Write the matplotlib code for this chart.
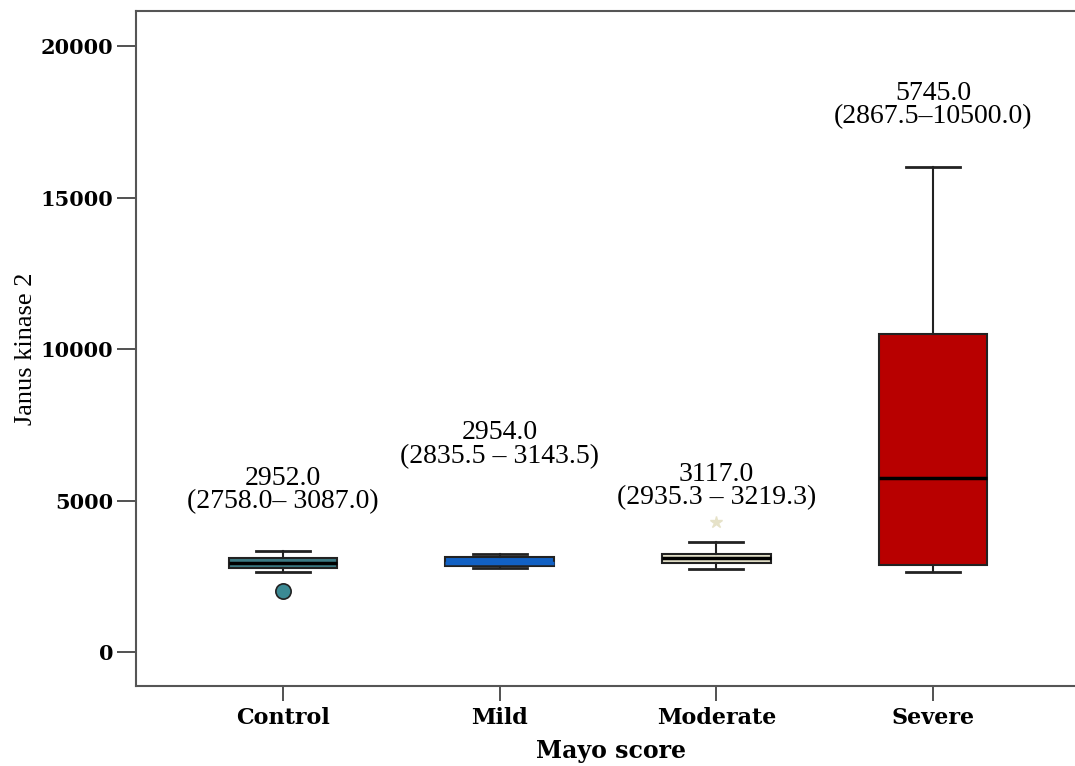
import matplotlib
matplotlib.use('Agg')
import matplotlib.pyplot as plt

# data
groups = ['Control', 'Mild', 'Moderate', 'Severe']
medians = [2952.0, 2954.0, 3117.0, 5745.0]
q1 = [2758.0, 2835.5, 2935.3, 2867.5]
q3 = [3087.0, 3143.5, 3219.3, 10500.0]
whis_lo = [2650, 2780, 2740, 2640]
whis_hi = [3330, 3230, 3630, 16000]
outliers = [[2000], [], [4300], []]
labels = ['2952.0\n(2758.0\u2013 3087.0)',
          '2954.0\n(2835.5 \u2013 3143.5)',
          '3117.0\n(2935.3 \u2013 3219.3)',
          '5745.0\n(2867.5\u201310500.0)']
label_y = [5350, 6850, 5480, 18050]
colors = ['#3b7a84', '#1261c4', '#e8e5cc', '#b80000']

fig = plt.figure(figsize=(10.75, 7.66), dpi=100)
ax = fig.add_axes([0.1265, 0.1044, 0.8735, 0.8812])

stats = []
for i in range(len(groups)):
    stats.append(dict(med=medians[i], q1=q1[i], q3=q3[i],
                      whislo=whis_lo[i], whishi=whis_hi[i], fliers=[]))

pos = [1, 2, 3, 4]
bp = ax.bxp(stats, positions=pos, widths=0.5, patch_artist=True,
            showfliers=False,
            medianprops=dict(color='black', linewidth=2.5),
            whiskerprops=dict(color='#222222', linewidth=1.5),
            capprops=dict(color='#222222', linewidth=2),
            boxprops=dict(edgecolor='#222222', linewidth=1.5))
for patch, c in zip(bp['boxes'], colors):
    patch.set_facecolor(c)
bp['medians'][1].set_color('#1261c4')

# outliers
ax.plot([1] * len(outliers[0]), outliers[0], 'o', ms=11,
        markerfacecolor='#3b8a94', markeredgecolor='#222222', mew=1.2)
ax.plot([3] * len(outliers[2]), outliers[2], '*', ms=9,
        markerfacecolor='#e6e2c8', markeredgecolor='#e6e2c8')

for i in range(len(groups)):
    ax.text(pos[i], label_y[i], labels[i], ha='center', va='center',
            fontsize=20, family='Liberation Serif', linespacing=0.92)

ax.set_xlim(0.322, 4.655)
ax.set_ylim(-1122, 21155)
ax.set_yticks([0, 5000, 10000, 15000, 20000])
ax.set_xticks(pos)
ax.set_xticklabels(groups)
for t in ax.get_xticklabels():
    t.set_family('DejaVu Serif')
    t.set_fontweight('bold')
    t.set_fontsize(16)
for t in ax.get_yticklabels():
    t.set_family('DejaVu Serif')
    t.set_fontweight('bold')
    t.set_fontsize(15)
ax.tick_params(axis='y', length=13.5, width=1.2, color='#333333', pad=3)
ax.tick_params(axis='x', length=11, width=1.2, color='#333333', pad=4)
ax.spines['right'].set_visible(False)
for s in ['left', 'bottom', 'top']:
    ax.spines[s].set_color('#555555')
    ax.spines[s].set_linewidth(1.5)

ax.set_ylabel('Janus kinase 2', family='Liberation Serif', fontsize=19)
ax.yaxis.set_label_coords(-0.105, 0.5)
ax.set_xlabel('Mayo score', family='DejaVu Serif', fontweight='bold',
              fontsize=17)
ax.xaxis.set_label_coords(0.506, -0.079)

plt.savefig('out.png', dpi=100)
